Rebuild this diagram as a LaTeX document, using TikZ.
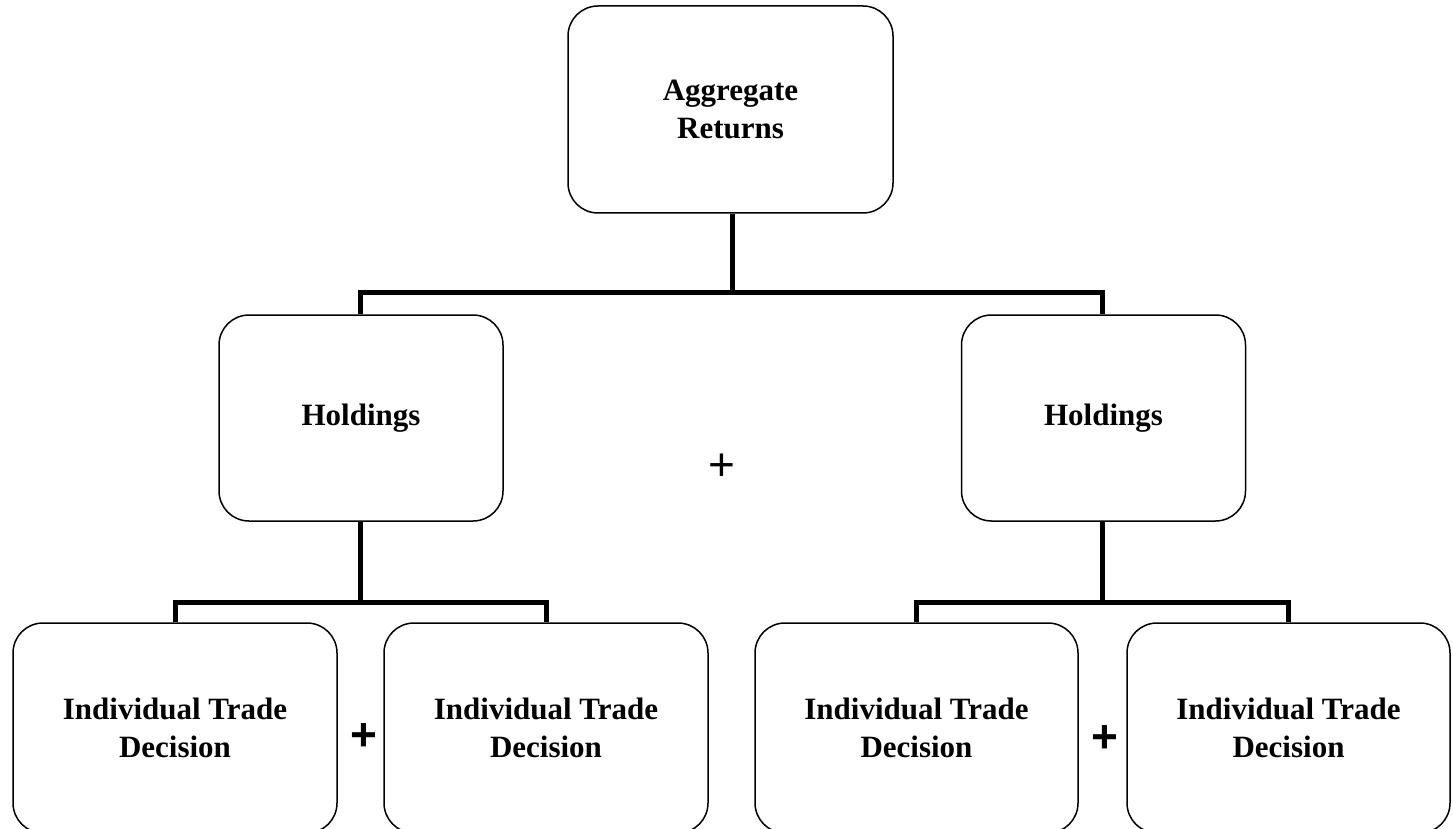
\documentclass[tikz,border=0pt]{standalone}
\usepackage{fontspec}
\setmainfont{Liberation Serif}
\newfontfamily\plusfont{Liberation Sans}
\begin{document}
\begin{tikzpicture}[x=1pt,y=-1pt,
  box/.style={draw=black, line width=1.5pt, rounded corners=30pt, fill=white,
    align=center, inner sep=0pt, font=\fontsize{31}{38}\selectfont\bfseries},
  conn/.style={draw=black, line width=5pt, line join=miter},
  plussign/.style={inner sep=0pt, font=\plusfont\fontsize{46}{46}\selectfont}]
\useasboundingbox (0,0) rectangle (1453,829);
\node[box, minimum width=325pt, minimum height=207pt] (top) at (730.5,109.5) {Aggregate\\Returns};
\node[box, minimum width=284pt, minimum height=206pt] (hl) at (361,418) {Holdings};
\node[box, minimum width=284pt, minimum height=206pt] (hr) at (1103.5,418) {Holdings};
\node[box, minimum width=324pt, minimum height=210pt] (b1) at (175,728) {Individual Trade\\Decision};
\node[box, minimum width=324pt, minimum height=210pt] (b2) at (546,728) {Individual Trade\\Decision};
\node[box, minimum width=323pt, minimum height=210pt] (b3) at (916.5,728) {Individual Trade\\Decision};
\node[box, minimum width=323pt, minimum height=210pt] (b4) at (1288.5,728) {Individual Trade\\Decision};
\node[plussign] (p0) at (722,467) {+};
\node[plussign, font=\plusfont\bfseries\fontsize{46}{46}\selectfont] (p1) at (364,737) {+};
\node[plussign, font=\plusfont\bfseries\fontsize{46}{46}\selectfont] (p2) at (1105,739) {+};
\coordinate (j0) at (732,292);
\coordinate (j1) at (360,602);
\coordinate (j2) at (1102,602);
\draw[conn] (top.south -| j0) -- (j0);
\draw[conn] (hl.north -| j1) |- (j0) -| (hr.north -| j2);
\draw[conn] (hl.south -| j1) -- (j1);
\draw[conn] (b1.north) |- (j1) -| (b2.north);
\draw[conn] (hr.south -| j2) -- (j2);
\draw[conn] (b3.north) |- (j2) -| (b4.north);
\end{tikzpicture}
\end{document}
